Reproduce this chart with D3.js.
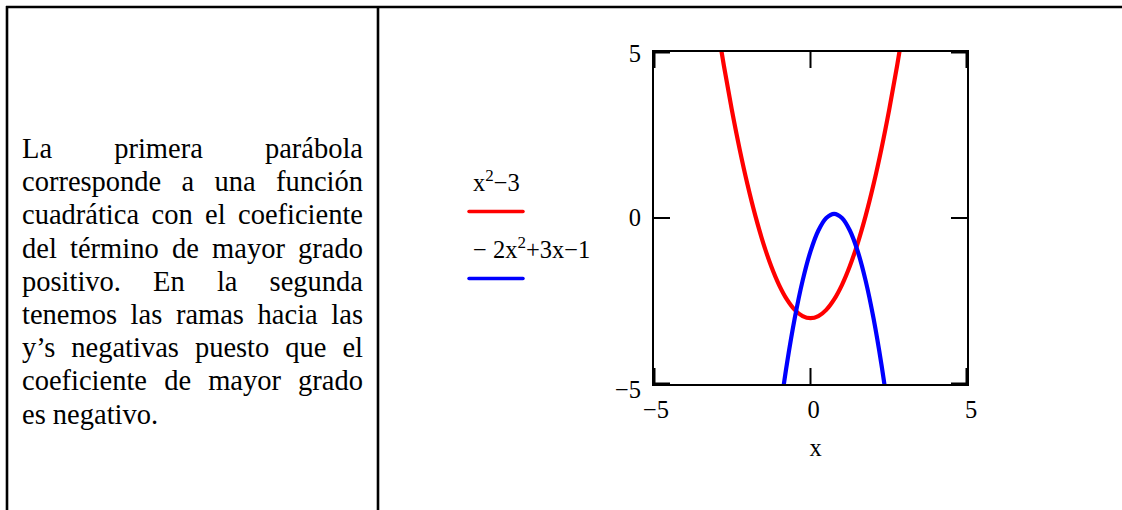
<!DOCTYPE html>
<html>
<head>
<meta charset="utf-8">
<script src="https://cdn.jsdelivr.net/npm/d3@7"></script>
<style>
  html, body { margin: 0; padding: 0; background: #fff; }
  svg { display: block; }
  text { font-family: "Liberation Serif", "Times New Roman", serif; fill: #000; }
</style>
</head>
<body>
<svg id="page" width="1122" height="510"></svg>
<script>
// Explanatory paragraph (one entry per justified line)
const paragraphLines = [
  "La primera parábola",
  "corresponde a una función",
  "cuadrática con el coeficiente",
  "del término de mayor grado",
  "positivo. En la segunda",
  "tenemos las ramas hacia las",
  "y’s negativas puesto que el",
  "coeficiente de mayor grado",
  "es negativo."
];

// Sampled points of f(x) = x^2 - 3
const redX = [-3, -2.75, -2.5, -2.25, -2, -1.75, -1.5, -1.25, -1, -0.75, -0.5, -0.25, 0,
              0.25, 0.5, 0.75, 1, 1.25, 1.5, 1.75, 2, 2.25, 2.5, 2.75, 3];
const redY = [6, 4.5625, 3.25, 2.0625, 1, 0.0625, -0.75, -1.4375, -2, -2.4375, -2.75, -2.9375, -3,
              -2.9375, -2.75, -2.4375, -2, -1.4375, -0.75, 0.0625, 1, 2.0625, 3.25, 4.5625, 6];

// Sampled points of g(x) = -2x^2 + 3x - 1
const blueX = [-1, -0.75, -0.5, -0.25, 0, 0.25, 0.5, 0.75, 1, 1.25, 1.5, 1.75, 2, 2.25, 2.5];
const blueY = [-6, -4.375, -3, -1.875, -1, -0.375, 0, 0.125, 0, -0.375, -1, -1.875, -3, -4.375, -6];

const xTicks = [-5, 0, 5];
const yTicks = [-5, 0, 5];
const xTickLabels = ["\u22125", "0", "5"];
const yTickLabels = ["\u22125", "0", "5"];

const svg = d3.select("#page");

// ---- table borders ----
const border = svg.append("g").attr("stroke", "#000").attr("stroke-width", 2.6).attr("fill", "none");
border.append("line").attr("x1", 6).attr("x2", 1122).attr("y1", 7).attr("y2", 7);
border.append("line").attr("x1", 7).attr("x2", 7).attr("y1", 6).attr("y2", 510);
border.append("line").attr("x1", 378).attr("x2", 378).attr("y1", 6).attr("y2", 510);

// ---- justified paragraph ----
const textLeft = 22, textRight = 363, firstBaseline = 158, lineStep = 33.2;
const para = svg.append("g").attr("font-size", 28.5);
paragraphLines.forEach((line, i) => {
  const t = para.append("text")
    .attr("x", textLeft)
    .attr("y", firstBaseline + i * lineStep)
    .text(line);
  if (i < paragraphLines.length - 1) {
    const gaps = line.split(" ").length - 1;
    const natural = t.node().getComputedTextLength();
    if (gaps > 0) t.attr("word-spacing", (textRight - textLeft - natural) / gaps);
  }
});

// ---- plot ----
const plot = { left: 653, right: 968, top: 51, bottom: 385 };
const x = d3.scaleLinear().domain([-5, 5]).range([plot.left, plot.right]);
const y = d3.scaleLinear().domain([-5, 5]).range([plot.bottom, plot.top]);

svg.append("clipPath").attr("id", "plotClip")
  .append("rect")
  .attr("x", plot.left).attr("y", plot.top)
  .attr("width", plot.right - plot.left).attr("height", plot.bottom - plot.top);

const line = d3.line()
  .x(d => x(d[0]))
  .y(d => y(d[1]))
  .curve(d3.curveCatmullRom.alpha(0.5));

const curves = svg.append("g").attr("clip-path", "url(#plotClip)").attr("fill", "none")
  .attr("stroke-width", 4.2).attr("stroke-linejoin", "round");
curves.append("path")
  .attr("d", line(redX.map((v, i) => [v, redY[i]])))
  .attr("stroke", "#ff0000");
curves.append("path")
  .attr("d", line(blueX.map((v, i) => [v, blueY[i]])))
  .attr("stroke", "#0000ff");

// frame
svg.append("rect")
  .attr("x", plot.left).attr("y", plot.top)
  .attr("width", plot.right - plot.left).attr("height", plot.bottom - plot.top)
  .attr("fill", "none").attr("stroke", "#000").attr("stroke-width", 2);

// inward ticks on all four sides
const tickLen = 17;
const clampX = v => Math.max(plot.left + 1.5, Math.min(plot.right - 1.5, x(v)));
const clampY = v => Math.max(plot.top + 1.5, Math.min(plot.bottom - 1.5, y(v)));
const ticks = svg.append("g").attr("stroke", "#000").attr("stroke-width", 2);
xTicks.forEach(v => {
  ticks.append("line").attr("x1", clampX(v)).attr("x2", clampX(v))
    .attr("y1", plot.top).attr("y2", plot.top + tickLen);
  ticks.append("line").attr("x1", clampX(v)).attr("x2", clampX(v))
    .attr("y1", plot.bottom).attr("y2", plot.bottom - tickLen);
});
yTicks.forEach(v => {
  ticks.append("line").attr("y1", clampY(v)).attr("y2", clampY(v))
    .attr("x1", plot.left).attr("x2", plot.left + tickLen);
  ticks.append("line").attr("y1", clampY(v)).attr("y2", clampY(v))
    .attr("x1", plot.right).attr("x2", plot.right - tickLen);
});

// tick labels
const labels = svg.append("g").attr("font-size", 24.5);
xTicks.forEach((v, i) => {
  labels.append("text")
    .attr("x", x(v) + 3).attr("y", 418)
    .attr("text-anchor", "middle")
    .text(xTickLabels[i]);
});
yTicks.forEach((v, i) => {
  const extra = v === 5 ? 3 : (v === -5 ? 5 : 0);
  labels.append("text")
    .attr("x", 641).attr("y", y(v) + 8 + extra)
    .attr("text-anchor", "end")
    .text(yTickLabels[i]);
});

// axis title
svg.append("text").attr("font-size", 24.5)
  .attr("x", x(0) + 5).attr("y", 456)
  .attr("text-anchor", "middle").text("x");

// legend
const legend = svg.append("g").attr("font-size", 24.5);
const t1 = legend.append("text").attr("x", 473).attr("y", 191);
t1.append("tspan").text("x");
t1.append("tspan").attr("font-size", 17).attr("dy", -10).text("2");
t1.append("tspan").attr("dy", 10).text("\u22123");
legend.append("line").attr("x1", 469).attr("x2", 523).attr("y1", 211.5).attr("y2", 211.5)
  .attr("stroke", "#ff0000").attr("stroke-width", 3.5).attr("stroke-linecap", "round");

const t2 = legend.append("text").attr("x", 473).attr("y", 258).attr("xml:space", "preserve");
t2.append("tspan").text("\u2212 2x");
t2.append("tspan").attr("font-size", 17).attr("dy", -10).text("2");
t2.append("tspan").attr("dy", 10).text("+3x\u22121");
legend.append("line").attr("x1", 469).attr("x2", 523).attr("y1", 278.5).attr("y2", 278.5)
  .attr("stroke", "#0000ff").attr("stroke-width", 3.5).attr("stroke-linecap", "round");
</script>
</body>
</html>
